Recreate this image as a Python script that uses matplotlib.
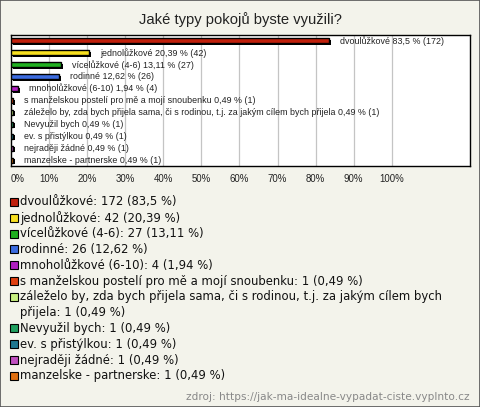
import textwrap

import matplotlib
import matplotlib.pyplot as plt
from matplotlib.patches import Rectangle
from matplotlib.transforms import offset_copy

matplotlib.use("Agg")

title = "Jaké typy pokojů byste využili?"
source = "zdroj: https://jak-ma-idealne-vypadat-ciste.vyplnto.cz"

categories = [
    "dvoulůžkové",
    "jednolůžkové",
    "vícelůžkové (4-6)",
    "rodinné",
    "mnoholůžkové (6-10)",
    "s manželskou postelí pro mě a mojí snoubenku",
    "záleželo by, zda bych přijela sama, či s rodinou, t.j. za jakým cílem bych přijela",
    "Nevyužil bych",
    "ev. s přistýlkou",
    "nejraději žádné",
    "manzelske - partnerske",
]
counts = [172, 42, 27, 26, 4, 1, 1, 1, 1, 1, 1]
percents = [83.5, 20.39, 13.11, 12.62, 1.94, 0.49, 0.49, 0.49, 0.49, 0.49, 0.49]
colors = [
    "#c0200c", "#f8e020", "#20b020", "#3c6ce0", "#b020c0", "#e04010",
    "#c8f080", "#20a060", "#207890", "#c050c0", "#e07010",
]
ticks = [0, 10, 20, 30, 40, 50, 60, 70, 80, 90, 100]


def pct(p):
    return f"{p:g}".replace(".", ",")


bg = "#f3f3eb"
fig = plt.figure(figsize=(4.8, 4.07), dpi=100, facecolor=bg)
fig.patches.append(Rectangle((0, 0), 1, 1, transform=fig.transFigure,
                             fill=False, edgecolor="#555555", linewidth=1.2))

fig.text(0.5, 0.951, title, ha="center", va="center", fontsize=10.6,
         family="Liberation Sans", color="#222222")

ax = fig.add_axes([0.0229, 0.592, 0.956, 0.322])
ax.set_facecolor("white")
ax.set_xlim(0, 120.5)
ax.set_ylim(len(categories) - 0.5, -0.5)
for s in ax.spines.values():
    s.set_color("black")
    s.set_linewidth(1)

for t in ticks[1:]:
    ax.axvline(t, color="#c4c4c4", linewidth=0.9, zorder=0)

ypos = list(range(len(categories)))
shadow = offset_copy(ax.transData, fig=fig, x=2, y=-1.5, units="dots")
ax.barh(ypos, percents, height=0.42, color="black", transform=shadow, zorder=2)
ax.barh(ypos, percents, height=0.42, color=colors, edgecolor="black",
        linewidth=1.0, zorder=3)

for y, name, c, p in zip(ypos, categories, counts, percents):
    ax.annotate(f"{name} {pct(p)} % ({c})", (p, y), xytext=(8, 0),
                textcoords="offset points", va="center", ha="left",
                fontsize=6.4, family="Liberation Sans", color="#222222", zorder=4)

ax.set_xticks(ticks)
ax.set_xticklabels([f"{t}%" for t in ticks], fontsize=6.9,
                   family="Liberation Sans", color="#222222")
ax.get_xticklabels()[0].set_horizontalalignment("left")
ax.tick_params(axis="x", length=0, pad=6)
ax.set_yticks([])

# legend, one text per line so the box sits on the first line
y = 202
for name, c, p, col in zip(categories, counts, percents, colors):
    lines = textwrap.wrap(f"{name}: {c} ({pct(p)} %)", width=76)
    fig.patches.append(Rectangle((10 / 480, 1 - (y + 4) / 407), 8 / 480, 8 / 407,
                                 transform=fig.transFigure, facecolor=col,
                                 edgecolor="black", linewidth=0.8))
    for line in lines:
        fig.text(20 / 480, 1 - y / 407, line, ha="left", va="center",
                 fontsize=8.4, family="DejaVu Sans", color="#111111")
        y += 15.8

fig.text(470 / 480, 1 - 397 / 407, source, ha="right", va="center",
         fontsize=7.6, family="DejaVu Sans", color="#888888")

fig.savefig("out.png", dpi=100, facecolor=bg)
